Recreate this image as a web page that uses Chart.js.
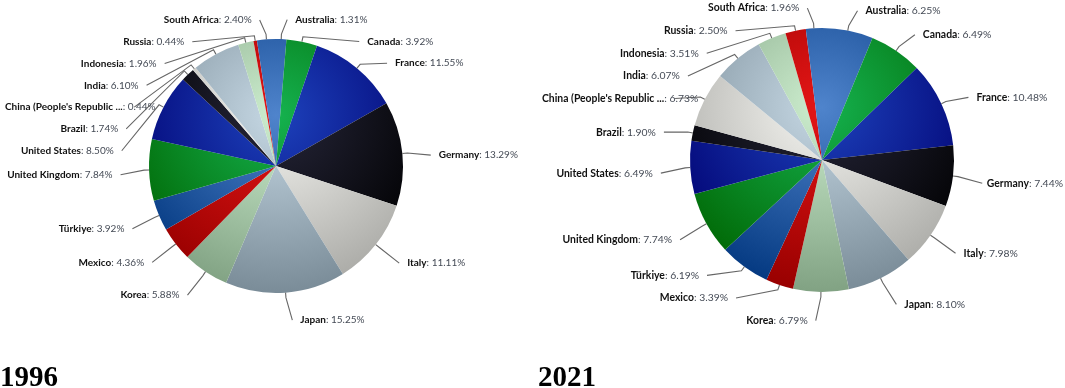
<!DOCTYPE html>
<html>
<head>
<meta charset="utf-8">
<script src="https://cdn.jsdelivr.net/npm/chart.js@4.4.1/dist/chart.umd.min.js"></script>
<style>
  html, body { margin: 0; padding: 0; background: #fff; }
  #wrap { position: relative; width: 1065px; height: 388px; overflow: hidden; }
  canvas { position: absolute; top: 0; }
  #chart-1 { left: 0; }
  #chart-2 { left: 537px; }
  .year { position: absolute; top: 362px; font: bold 29px "Liberation Serif", "Times New Roman", serif; line-height: 29px; color: #000; }
</style>
</head>
<body>
<div id="wrap">
  <canvas id="chart-1" width="530" height="388"></canvas>
  <canvas id="chart-2" width="528" height="388"></canvas>
  <div class="year" style="left:0">1996</div>
  <div class="year" style="left:538px">2021</div>
</div>
<script>
const countries = ['Australia', 'Canada', 'France', 'Germany', 'Italy', 'Japan', 'Korea', 'Mexico',
    'Türkiye', 'United Kingdom', 'United States', 'Brazil', "China (People's Republic ...",
    'India', 'Indonesia', 'Russia', 'South Africa'];
const share1996 = [1.31, 3.92, 11.55, 13.29, 11.11, 15.25, 5.88, 4.36, 3.92, 7.84, 8.50, 1.74, 0.44, 6.10, 1.96, 0.44, 2.40];
const share2021 = [6.25, 6.49, 10.48, 7.44, 7.98, 8.10, 6.79, 3.39, 6.19, 7.74, 6.49, 1.90, 6.73, 6.07, 3.51, 2.50, 1.96];

// base colours, repeated every 8 slices
const palette = ['#4f84cc', '#15b24f', '#1d42bc', '#26263a', '#f6f6f2', '#c6d8e4', '#cdeecf', '#e41616'];

function darken(hex, amt) {
    const n = parseInt(hex.slice(1), 16);
    const ch = [(n >> 16) & 255, (n >> 8) & 255, n & 255].map(v => Math.max(0, v - amt));
    return 'rgb(' + ch.join(',') + ')';
}

// gradient centre sits above the pie centre, like highcharts' {cx:.5, cy:.3, r:.7}
function sliceFill(c) {
    const base = palette[c.dataIndex % palette.length];
    const area = c.chart.chartArea;
    if (!area) return base;
    const x = (area.left + area.right) / 2, y = (area.top + area.bottom) / 2;
    const rad = Math.min(area.right - area.left, area.bottom - area.top) / 2;
    const g = c.chart.ctx.createRadialGradient(x, y - 0.4 * rad, 0, x, y - 0.4 * rad, 1.4 * rad);
    g.addColorStop(0, base);
    g.addColorStop(1, darken(base, 76));
    return g;
}

// outside labels with connectors, placed roughly the way highcharts does it
const pieLabels = {
    id: 'pieLabels',
    afterDatasetsDraw(chart, args, opts) {
        const ctx = chart.ctx;
        const arcs = chart.getDatasetMeta(0).data;
        if (!arcs.length) return;
        const values = chart.data.datasets[0].data;
        const names = chart.data.labels;
        const cx = arcs[0].x, cy = arcs[0].y, r = arcs[0].outerRadius;
        const R = r + opts.distance;
        const top = cy - R, bottom = cy + R;

        const items = arcs.map((a, i) => {
            const mid = (a.startAngle + a.endAngle) / 2;
            const ny = cy + R * Math.sin(mid);
            return { i, mid, ny, y: ny, side: Math.cos(mid) >= 0 ? 1 : -1 };
        });

        [1, -1].forEach(side => {
            const list = items.filter(o => o.side === side).sort((a, b) => a.ny - b.ny);
            let prev = -Infinity;
            list.forEach(o => { o.y = Math.max(o.ny, top, prev + opts.gap); prev = o.y; });
            let next = Infinity;
            for (let k = list.length - 1; k >= 0; k--) {
                const o = list[k];
                o.y = Math.min(o.y, bottom, next - opts.gap);
                next = o.y;
            }
        });

        const boldFont = 'bold ' + opts.size + 'px Lato';
        const normFont = opts.size + 'px Lato';
        ctx.save();
        ctx.textBaseline = 'middle';
        items.forEach(o => {
            const yy = (o.y <= top + 0.5 || o.y >= bottom - 0.5) ? o.ny : o.y;
            const dy = Math.max(-R, Math.min(R, yy - cy));
            const ax = cx + o.side * Math.sqrt(R * R - dy * dy);
            const ty = o.y + opts.dy;
            const name = names[o.i];
            const val = ': ' + values[o.i].toFixed(2) + '%';
            ctx.font = boldFont;
            const w1 = ctx.measureText(name).width;
            ctx.font = normFont;
            const w2 = ctx.measureText(val).width;
            const w = w1 + w2;
            let left = o.side > 0 ? ax + 13 : ax - 13 - w;
            if (left < 5) left = 5;
            if (left + w > chart.width - 2) left = chart.width - 2 - w;

            // connector
            const tx = cx + r * Math.cos(o.mid), tyy = cy + r * Math.sin(o.mid);
            const bx = cx + (r + 5) * Math.cos(o.mid), by = cy + (r + 5) * Math.sin(o.mid);
            ctx.beginPath();
            ctx.moveTo(ax + o.side * 5, ty);
            ctx.lineTo(bx, by);
            ctx.lineTo(tx, tyy);
            ctx.strokeStyle = '#666';
            ctx.lineWidth = 1.1;
            ctx.stroke();

            ctx.textAlign = 'left';
            ctx.font = boldFont;
            ctx.fillStyle = '#111';
            ctx.fillText(name, left, ty);
            ctx.font = normFont;
            ctx.fillStyle = '#444a55';
            ctx.fillText(val, left + w1, ty);
        });
        ctx.restore();
    }
};

function makePie(id, values, pad, lab) {
    return new Chart(document.getElementById(id), {
        type: 'pie',
        data: {
            labels: countries,
            datasets: [{
                data: values,
                backgroundColor: sliceFill,
                borderWidth: 0
            }]
        },
        options: {
            responsive: false,
            animation: false,
            layout: { padding: pad },
            plugins: {
                legend: { display: false },
                tooltip: { enabled: false },
                pieLabels: lab
            }
        },
        plugins: [pieLabels]
    });
}

makePie('chart-1', share1996,
    { left: 149, right: 127, top: 39, bottom: 95 },
    { distance: 23.5, gap: 21.8, dy: 4, size: 10 });
makePie('chart-2', share2021,
    { left: 153, right: 111, top: 28, bottom: 96 },
    { distance: 24.4, gap: 22.6, dy: 4.2, size: 10.4 });
</script>
</body>
</html>
